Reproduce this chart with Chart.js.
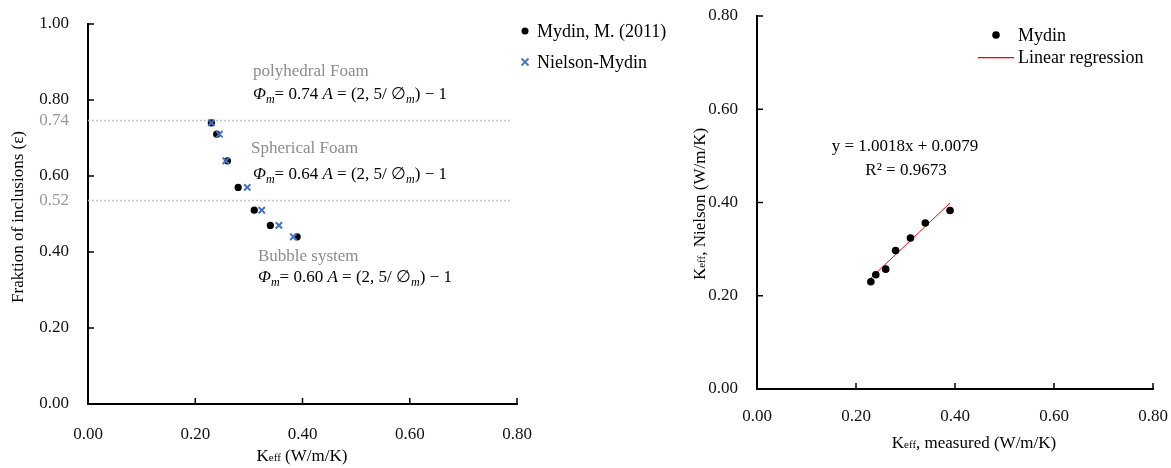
<!DOCTYPE html>
<html>
<head>
<meta charset="utf-8">
<script src="https://cdn.jsdelivr.net/npm/chart.js@4"></script>
<style>
body{margin:0;background:#fff;}
#wrap{position:relative;width:1171px;height:468px;}
.box{position:absolute;top:0;height:468px;}
</style>
</head>
<body>
<div id="wrap">
  <div class="box" style="left:0;width:680px"><canvas id="c1"></canvas></div>
  <div class="box" style="left:680px;width:491px"><canvas id="c2"></canvas></div>
</div>
<script>
const FONT = "'Liberation Serif', 'Times New Roman', serif";
const BLUE = '#4472C4';
const RED = '#ff0000';

// measured points (Mydin 2011) and Nielson model
const mydinK = [0.23, 0.24, 0.26, 0.28, 0.31, 0.34, 0.39];
const inclusionFrac = [0.74, 0.71, 0.64, 0.57, 0.51, 0.47, 0.44];
const nielsonK = [0.23, 0.245, 0.257, 0.297, 0.324, 0.356, 0.383];

// dotted reference levels on the left chart
const refLevels = [0.747, 0.537];
const refLabels = ['0.74', '0.52'];
const foamNames = ['polyhedral Foam', 'Spherical Foam', 'Bubble system'];
const phiM = ['0.74', '0.64', '0.60'];

// linear regression on the right chart
const trendX = [0.23, 0.39];
const trendY = [0.238, 0.399];
const regEq = 'y = 1.0018x + 0.0079';
const regR2 = 'R² = 0.9673';

function pts(xs, ys){ return xs.map((x, i) => ({x: x, y: ys[i]})); }

function fontStr(s){ return (s.it ? 'italic ' : '') + (s.size || 17) + 'px ' + FONT; }

// draws mixed-size text; y is the baseline
function richText(ctx, segs, x, y, opts){
  opts = opts || {};
  ctx.save();
  ctx.translate(x, y);
  if (opts.rotate) ctx.rotate(opts.rotate);
  ctx.textBaseline = 'alphabetic';
  ctx.textAlign = 'left';
  let w = 0;
  segs.forEach(s => { ctx.font = fontStr(s); s.w = ctx.measureText(s.t).width; w += s.w; });
  let cx = opts.align === 'left' ? 0 : -w / 2;
  segs.forEach(s => {
    ctx.font = fontStr(s);
    ctx.fillStyle = s.color || opts.color || '#000';
    ctx.fillText(s.t, cx, s.dy || 0);
    cx += s.w;
  });
  ctx.restore();
}

function keff(rest){
  return [{t: 'K'}, {t: 'eff', size: 11}, {t: rest}];
}

function formula(phi){
  return [
    {t: 'Φ', it: true}, {t: 'm', it: true, size: 12, dy: 4},
    {t: '= ' + phi + ' '}, {t: 'A', it: true},
    {t: ' = (2, 5/ ∅'}, {t: 'm', it: true, size: 12, dy: 4}, {t: ') − 1'}
  ];
}

function axis(pad, size){
  return {
    type: 'linear', min: 0,
    ticks: {stepSize: 0.2, padding: pad, color: '#111', font: {family: FONT, size: 17},
      callback: v => Number(v).toFixed(2)},
    grid: {display: true, drawOnChartArea: false, drawTicks: false},
    border: {color: '#000', width: 2},
    afterFit: s => {
      if (s.isHorizontal()) s.height = size; else s.width = size;
      s.paddingTop = 0; s.paddingBottom = 0; s.paddingLeft = 0; s.paddingRight = 0;
    }
  };
}

const innerTicks = {
  id: 'innerTicks',
  afterDraw(chart){
    const ctx = chart.ctx, a = chart.chartArea;
    ctx.save();
    ctx.strokeStyle = '#000';
    ctx.lineWidth = 1.5;
    chart.scales.x.ticks.forEach(t => {
      if (t.value === 0) return;
      const px = chart.scales.x.getPixelForValue(t.value);
      ctx.beginPath(); ctx.moveTo(px, a.bottom); ctx.lineTo(px, a.bottom - 6); ctx.stroke();
    });
    chart.scales.y.ticks.forEach(t => {
      if (t.value === 0) return;
      const py = chart.scales.y.getPixelForValue(t.value);
      ctx.beginPath(); ctx.moveTo(a.left, py); ctx.lineTo(a.left + 6, py); ctx.stroke();
    });
    ctx.restore();
  }
};

const leftDecor = {
  id: 'leftDecor',
  beforeDatasetsDraw(chart){
    const ctx = chart.ctx, a = chart.chartArea, y = chart.scales.y;
    ctx.save();
    ctx.strokeStyle = '#c0c0c0';
    ctx.lineWidth = 1.5;
    ctx.setLineDash([2, 2]);
    refLevels.forEach((v, i) => {
      const py = Math.round(y.getPixelForValue(v)) + 0.5;
      ctx.beginPath(); ctx.moveTo(a.left, py); ctx.lineTo(a.right - 6, py); ctx.stroke();
      ctx.font = '17px ' + FONT;
      ctx.fillStyle = '#999';
      ctx.textAlign = 'right';
      ctx.textBaseline = 'middle';
      ctx.fillText(refLabels[i], a.left - 19, py);
    });
    ctx.restore();
  },
  afterDraw(chart){
    const ctx = chart.ctx;
    const grey = '#8c8c8c';
    const spots = [[253, 76, 253, 99], [251, 153, 253, 179], [258, 261, 258, 282]];
    spots.forEach((p, i) => {
      richText(ctx, [{t: foamNames[i], color: grey}], p[0], p[1], {align: 'left'});
      richText(ctx, formula(phiM[i]), p[2], p[3], {align: 'left'});
    });
    // axis titles
    richText(ctx, keff(' (W/m/K)'), 302, 461);
    richText(ctx, [{t: 'Fraktion of inclusions (ε)'}], 23, 217, {rotate: -Math.PI / 2});
    // legend
    const ds = chart.data.datasets;
    ctx.save();
    ctx.fillStyle = '#000';
    ctx.beginPath(); ctx.arc(525, 31, 3.5, 0, Math.PI * 2); ctx.fill();
    ctx.strokeStyle = BLUE;
    ctx.lineWidth = 1.8;
    ctx.beginPath();
    ctx.moveTo(521.5, 58.5); ctx.lineTo(528.5, 65.5);
    ctx.moveTo(528.5, 58.5); ctx.lineTo(521.5, 65.5);
    ctx.stroke();
    ctx.restore();
    richText(ctx, [{t: ds[1].label, size: 18}], 537, 37, {align: 'left'});
    richText(ctx, [{t: ds[0].label, size: 18}], 537, 68, {align: 'left'});
  }
};

const rightDecor = {
  id: 'rightDecor',
  afterDraw(chart){
    const ctx = chart.ctx;
    const ds = chart.data.datasets;
    richText(ctx, [{t: regEq}], 225, 151);
    richText(ctx, [{t: regR2}], 226, 175);
    richText(ctx, keff(', measured (W/m/K)'), 294, 448);
    richText(ctx, keff(', Nielson (W/m/K)'), 25, 204, {rotate: -Math.PI / 2});
    ctx.save();
    ctx.fillStyle = '#000';
    ctx.beginPath(); ctx.arc(316, 35, 3.8, 0, Math.PI * 2); ctx.fill();
    ctx.fillStyle = RED;
    ctx.fillRect(298, 57, 36, 1.3);
    ctx.restore();
    richText(ctx, [{t: ds[1].label, size: 18}], 338, 41, {align: 'left'});
    richText(ctx, [{t: ds[0].label, size: 18}], 338, 63, {align: 'left'});
  }
};

const common = {
  responsive: true,
  maintainAspectRatio: false,
  animation: false,
  plugins: {legend: {display: false}, tooltip: {enabled: false}}
};

const lx = axis(20, 64); lx.max = 0.8;
const ly = axis(19, 88); ly.max = 1.0;
new Chart(document.getElementById('c1'), {
  type: 'scatter',
  data: {
    datasets: [
      {label: 'Nielson-Mydin', data: pts(nielsonK, inclusionFrac), order: 0,
        pointStyle: 'crossRot', pointRadius: 4.5, borderColor: BLUE, borderWidth: 2,
        backgroundColor: BLUE},
      {label: 'Mydin, M. (2011)', data: pts(mydinK, inclusionFrac), order: 1,
        pointStyle: 'circle', pointRadius: 3.6, backgroundColor: '#000', borderColor: '#000', borderWidth: 0}
    ]
  },
  options: Object.assign({}, common, {
    layout: {padding: {top: 24, right: 163, left: 0, bottom: 0}},
    scales: {x: lx, y: ly}
  }),
  plugins: [innerTicks, leftDecor]
});

const rx = axis(17, 79); rx.max = 0.8;
const ry = axis(19, 77); ry.max = 0.8;
new Chart(document.getElementById('c2'), {
  type: 'scatter',
  data: {
    datasets: [
      {label: 'Linear regression', type: 'line', data: pts(trendX, trendY), order: 1,
        borderColor: RED, borderWidth: 1, pointRadius: 0, showLine: true, fill: false},
      {label: 'Mydin', data: pts(mydinK, nielsonK), order: 0,
        pointStyle: 'circle', pointRadius: 3.8, backgroundColor: '#000', borderColor: '#000', borderWidth: 0}
    ]
  },
  options: Object.assign({}, common, {
    layout: {padding: {top: 16, right: 18, left: 0, bottom: 0}},
    scales: {x: rx, y: ry}
  }),
  plugins: [innerTicks, rightDecor]
});
</script>
</body>
</html>
